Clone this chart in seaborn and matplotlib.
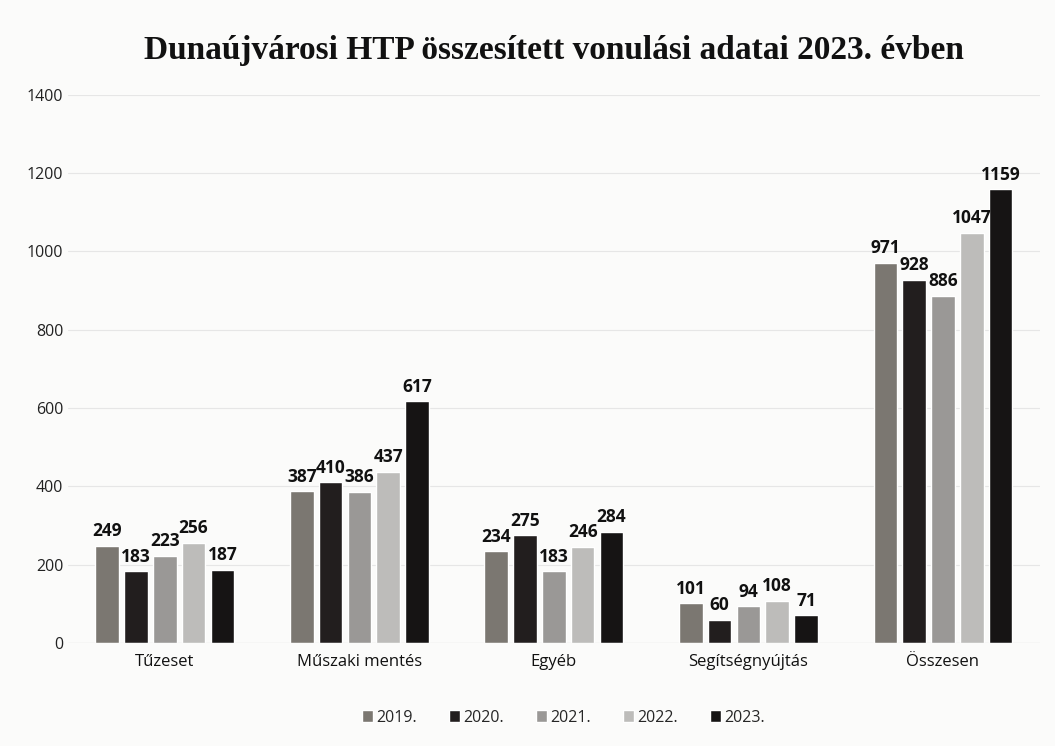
import matplotlib
matplotlib.use("Agg")
import matplotlib.pyplot as plt
import seaborn as sns
import pandas as pd

categories = ["Tűzeset", "Műszaki mentés", "Egyéb", "Segítségnyújtás", "Összesen"]
years = ["2019.", "2020.", "2021.", "2022.", "2023."]
v2019 = [249, 387, 234, 101, 971]
v2020 = [183, 410, 275, 60, 928]
v2021 = [223, 386, 183, 94, 886]
v2022 = [256, 437, 246, 108, 1047]
v2023 = [187, 617, 284, 71, 1159]
yticks = [0, 200, 400, 600, 800, 1000, 1200, 1400]
colors = ["#7b7771", "#221e1e", "#9a9896", "#bdbcba", "#161414"]

series = [v2019, v2020, v2021, v2022, v2023]
rows = []
for y, vals in zip(years, series):
    for c, v in zip(categories, vals):
        rows.append({"cat": c, "year": y, "val": v})
df = pd.DataFrame(rows)

sns.set_theme(style="white")
plt.rcParams["font.family"] = ["Open Sans", "DejaVu Sans"]

fig = plt.figure(figsize=(10.55, 7.46), dpi=100)
fig.patch.set_facecolor("#fbfbfa")
ax = fig.add_axes([0.064, 0.138, 0.922, 0.735])
ax.set_facecolor("#fbfbfa")

sns.barplot(data=df, x="cat", y="val", hue="year", order=categories,
            hue_order=years, palette=colors, width=0.74, gap=0.18,
            saturation=1, ax=ax, legend=True)

for cont in ax.containers:
    ax.bar_label(cont, padding=4, fontsize=12.5, fontweight="bold",
                 color="#111111", fontfamily=["Open Sans", "DejaVu Sans"])

ax.set_ylim(0, 1400)
ax.set_yticks(yticks)
ax.set_yticklabels([str(t) for t in yticks], fontsize=11.5, color="#222222")
ax.tick_params(axis="y", pad=3, length=0)
ax.tick_params(axis="x", labelsize=12, colors="#111111", length=0, pad=8)
ax.yaxis.grid(True, color="#e6e6e6", linewidth=0.8)
ax.set_axisbelow(True)
for s in ax.spines.values():
    s.set_visible(False)
ax.axhline(0, color="#d0d0d0", linewidth=0.8)
ax.set_xlabel("")
ax.set_ylabel("")

leg = ax.legend(loc="upper center", bbox_to_anchor=(0.51, -0.095), ncol=5,
                frameon=False, fontsize=11.5, handlelength=0.7, handleheight=0.7,
                columnspacing=2.0, handletextpad=0.2)

fig.text(0.525, 0.932, "Dunaújvárosi HTP összesített vonulási adatai 2023. évben",
         ha="center", va="center", fontsize=24, fontweight="bold",
         fontfamily="Liberation Serif", color="#111111")

fig.savefig("out.png", dpi=100, facecolor=fig.get_facecolor())
